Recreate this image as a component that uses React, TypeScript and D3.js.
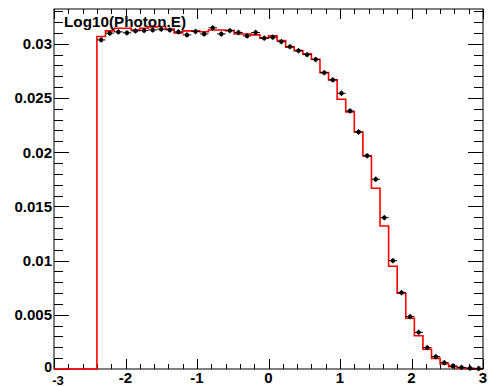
import React from "react";
import * as d3 from "d3";

const W = 492;
const H = 387;

// Histogram binning: 50 bins from -3 to 3 (width 0.12); first 5 bins empty
const X_MIN = -3;
const X_MAX = 3;
const BIN_WIDTH = 0.12;
const FIRST_FILLED = -2.4;

// Data points (black markers), bins starting at -2.4
const dataValues = [
  0.03035, 0.03097, 0.03109, 0.031, 0.03118, 0.03121, 0.03127, 0.03134, 0.03127, 0.03109,
  0.03081, 0.03112, 0.0309, 0.03146, 0.0309, 0.03121, 0.03103, 0.03072, 0.03103, 0.03051,
  0.0306, 0.03019, 0.02973, 0.02936, 0.02899, 0.02854, 0.02733, 0.02666, 0.02543, 0.0238,
  0.02186, 0.01966, 0.0175, 0.01396, 0.00999, 0.00704, 0.00483, 0.00338, 0.00197, 0.00114,
  0.00058, 0.00028, 0.00015, 0.00008, 0.00005,
];

// Red reference histogram, bins starting at -2.4
const mcValues = [
  0.03066, 0.03118, 0.03143, 0.03143, 0.03127, 0.03143, 0.03155, 0.03158, 0.03134, 0.031,
  0.03118, 0.03118, 0.0311, 0.03127, 0.03127, 0.03121, 0.0309, 0.0309, 0.03081, 0.03051,
  0.03072, 0.03029, 0.02968, 0.02936, 0.02906, 0.02857, 0.02733, 0.02666, 0.02488, 0.02371,
  0.02186, 0.01965, 0.01667, 0.01319, 0.00947, 0.00698, 0.00468, 0.00307, 0.00182, 0.00098,
  0.00046, 0.00021, 0.00008, 0.00004, 0.00002,
];

const dataErr = 0.00025;

const yTickValues = [0, 0.005, 0.01, 0.015, 0.02, 0.025, 0.03];
const yTickLabels = ["0", "0.005", "0.01", "0.015", "0.02", "0.025", "0.03"];
const xTickValues = [-3, -2, -1, 0, 1, 2, 3];
const xTickLabels = ["-3", "-2", "-1", "0", "1", "2", "3"];
const Y_MAX = 0.0332;

const title = "Log10(Photon.E)";

const FONT = "'Liberation Sans', Arial, Helvetica, sans-serif";

export default function App() {
  const left = 54, right = 483, top = 9, bottom = 369;
  const x = d3.scaleLinear().domain([X_MIN, X_MAX]).range([left, right]);
  const y = d3.scaleLinear().domain([0, Y_MAX]).range([bottom, top]);

  // Histogram step path
  const pts: [number, number][] = [[X_MIN, 0]];
  mcValues.forEach((v, i) => pts.push([FIRST_FILLED + i * BIN_WIDTH, v]));
  pts.push([X_MAX, mcValues[mcValues.length - 1]]);
  const line = d3
    .line<[number, number]>()
    .x((d) => x(d[0]))
    .y((d) => y(d[1]))
    .curve(d3.curveStepAfter);
  const histPath = line(pts) || "";

  // Minor ticks
  const yMinor = d3.range(0, Y_MAX + 1e-9, 0.001);
  const xMinor = d3.range(X_MIN, X_MAX + 1e-9, 0.2);

  return (
    <svg
      width={W}
      height={H}
      style={{ position: "absolute", left: 0, top: 0, background: "#fff" }}
    >
      <rect x={0} y={0} width={W} height={H} fill="#fff" />
      {/* frame */}
      <rect x={left} y={top} width={right - left} height={bottom - top} fill="none" stroke="#000" strokeWidth={1} />

      {/* y ticks left & right */}
      {yMinor.map((v, i) => {
        const major = Math.abs(v / 0.005 - Math.round(v / 0.005)) < 1e-6;
        const len = major ? 15 : 9;
        const yy = Math.round(y(v)) + 0.5;
        return (
          <g key={"ym" + i}>
            <line x1={left} x2={left + len} y1={yy} y2={yy} stroke="#000" strokeWidth={1} />
            <line x1={right} x2={right - len} y1={yy} y2={yy} stroke="#000" strokeWidth={1} />
          </g>
        );
      })}
      {/* x ticks bottom & top */}
      {xMinor.map((v, i) => {
        const major = Math.abs(v - Math.round(v)) < 1e-6;
        const len = major ? 10 : 5;
        const xx = Math.round(x(v)) + 0.5;
        return (
          <g key={"xm" + i}>
            <line x1={xx} x2={xx} y1={bottom} y2={bottom - len} stroke="#000" strokeWidth={1} />
            <line x1={xx} x2={xx} y1={top} y2={top + len} stroke="#000" strokeWidth={1} />
          </g>
        );
      })}

      {/* histogram */}
      <path d={histPath} fill="none" stroke="#ff0000" strokeWidth={1.6} />

      {/* data points */}
      {dataValues.map((v, i) => {
        const cx = x(FIRST_FILLED + (i + 0.5) * BIN_WIDTH);
        const cy = y(v);
        const x0 = x(FIRST_FILLED + i * BIN_WIDTH);
        const x1 = x(FIRST_FILLED + (i + 1) * BIN_WIDTH);
        return (
          <g key={"d" + i}>
            <line x1={x0} x2={x1} y1={cy} y2={cy} stroke="#000" strokeWidth={1} />
            <line x1={cx} x2={cx} y1={y(v - dataErr)} y2={y(v + dataErr)} stroke="#000" strokeWidth={1} />
            <circle cx={cx} cy={cy} r={2.2} fill="#000" />
          </g>
        );
      })}

      {/* y tick labels */}
      {yTickValues.map((v, i) => (
        <text
          key={"yl" + i}
          x={52}
          y={y(v) + (i === 0 ? 3 : 5.5)}
          textAnchor="end"
          fontFamily={FONT}
          fontWeight="bold"
          fontSize={i === 0 ? 14 : 15}
          fill="#000"
        >
          {yTickLabels[i]}
        </text>
      ))}
      {/* x tick labels */}
      {xTickValues.map((v, i) => (
        <text
          key={"xl" + i}
          x={x(v) + (i === 0 ? 4 : 0)}
          y={i === 0 ? 384.5 : 383}
          textAnchor="middle"
          fontFamily={FONT}
          fontWeight="bold"
          fontSize={i === 0 ? 13 : 15}
          fill="#000"
        >
          {xTickLabels[i]}
        </text>
      ))}

      {/* title */}
      <text
        x={64}
        y={27}
        fontFamily={FONT}
        fontWeight="bold"
        fontSize={14}
        textLength={122}
        lengthAdjust="spacingAndGlyphs"
        fill="#000"
      >
        {title}
      </text>
    </svg>
  );
}
